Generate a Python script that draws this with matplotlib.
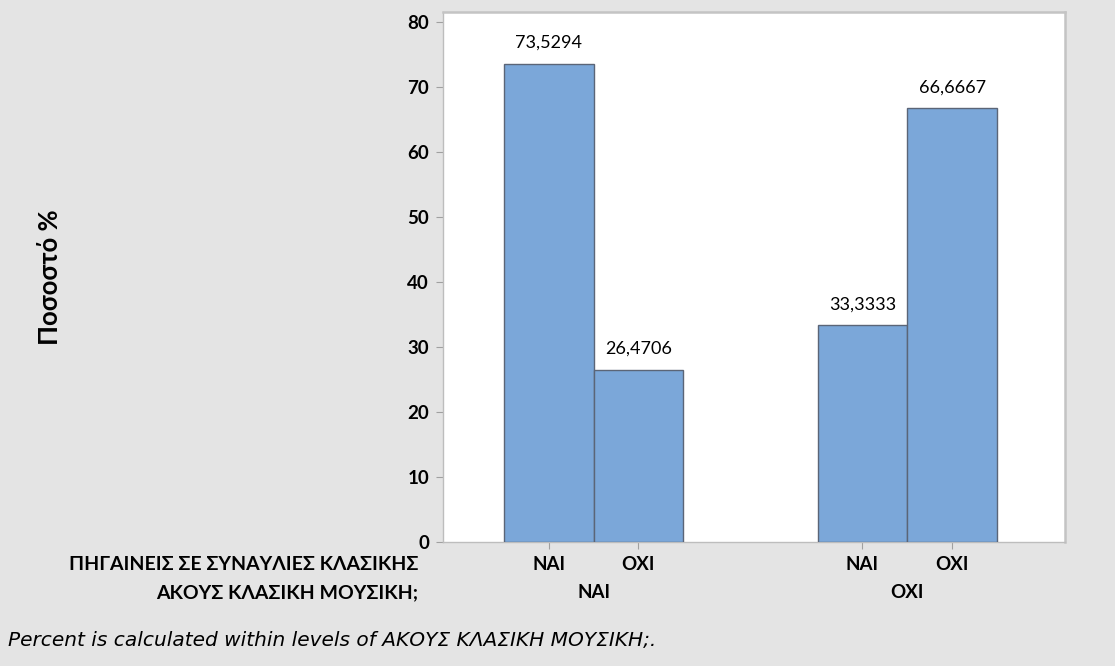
import matplotlib.pyplot as plt
import matplotlib.transforms as mtransforms
import numpy as np

# Δεδομένα
outer_groups = ["ΝΑΙ", "ΟΧΙ"]          # ΑΚΟΥΣ ΚΛΑΣΙΚΗ ΜΟΥΣΙΚΗ;
inner_groups = ["ΝΑΙ", "ΟΧΙ"]          # ΠΗΓΑΙΝΕΙΣ ΣΕ ΣΥΝΑΥΛΙΕΣ ΚΛΑΣΙΚΗΣ
percent_nai = [73.5294, 26.4706]
percent_oxi = [33.3333, 66.6667]
value_labels_nai = ["73,5294", "26,4706"]
value_labels_oxi = ["33,3333", "66,6667"]
yticks = [0, 10, 20, 30, 40, 50, 60, 70, 80]

BG = "#e4e4e4"
BAR = "#7ba7d9"
EDGE = "#5b6577"
FONT = "Lato"

fig = plt.figure(figsize=(11.15, 6.66), dpi=100, facecolor=BG)
ax = fig.add_axes([443 / 1115, 1 - 542 / 666, (1065 - 443) / 1115, (542 - 12) / 666])
ax.set_facecolor("white")

values = percent_nai + percent_oxi
labels = value_labels_nai + value_labels_oxi
x = np.array([0, 1, 3.5, 4.5])
bars = ax.bar(x, values, width=1.0, color=BAR, edgecolor=EDGE, linewidth=1.0, zorder=3)

for b, lab in zip(bars, labels):
    ax.annotate(lab, (b.get_x() + b.get_width() / 2, b.get_height()),
                xytext=(0, 15), textcoords="offset points",
                ha="center", va="center", fontsize=13, family=FONT)

ax.set_xlim(-1.18, 5.76)
ax.set_ylim(0, 81.5)
ax.set_yticks(yticks)
ax.set_yticklabels([str(t) for t in yticks], fontsize=13.5, family=FONT, fontweight="bold")
ax.set_xticks(x)
ax.set_xticklabels(inner_groups * 2, fontsize=13.5, family=FONT, fontweight="bold")
ax.tick_params(axis="y", length=5, color="#a0a0a0", pad=5)
ax.tick_params(axis="x", length=5, color="#a0a0a0", pad=5)

for s in ["left", "bottom"]:
    ax.spines[s].set_color("#bdbdbd")
    ax.spines[s].set_linewidth(1.0)
for s in ["right", "top"]:
    ax.spines[s].set_color("#c4c4c4")
    ax.spines[s].set_linewidth(1.8)

# δεύτερο επίπεδο ετικετών
trans = mtransforms.blended_transform_factory(ax.transData, fig.transFigure)
centers = [x[:2].mean(), x[2:].mean()]
for c, g in zip(centers, outer_groups):
    ax.text(c, 1 - 593 / 666, g, transform=trans, ha="center", va="center",
            fontsize=13.5, family=FONT, fontweight="bold")

fig.text(418 / 1115, 1 - 564 / 666, "ΠΗΓΑΙΝΕΙΣ ΣΕ ΣΥΝΑΥΛΙΕΣ ΚΛΑΣΙΚΗΣ", ha="right", va="center",
         fontsize=14, family=FONT, fontweight="bold")
fig.text(418 / 1115, 1 - 593 / 666, "ΑΚΟΥΣ ΚΛΑΣΙΚΗ ΜΟΥΣΙΚΗ;", ha="right", va="center",
         fontsize=14, family=FONT, fontweight="bold")
fig.text(50 / 1115, 1 - 277 / 666, "Ποσοστό %", rotation=90, ha="center", va="center",
         fontsize=18.5, family=FONT, fontweight="bold")
fig.text(8 / 1115, 1 - 640 / 666, "Percent is calculated within levels of ΑΚΟΥΣ ΚΛΑΣΙΚΗ ΜΟΥΣΙΚΗ;.",
         ha="left", va="center", fontsize=14.5, family="DejaVu Sans", style="italic")

fig.savefig("out.png", dpi=100, facecolor=BG)
